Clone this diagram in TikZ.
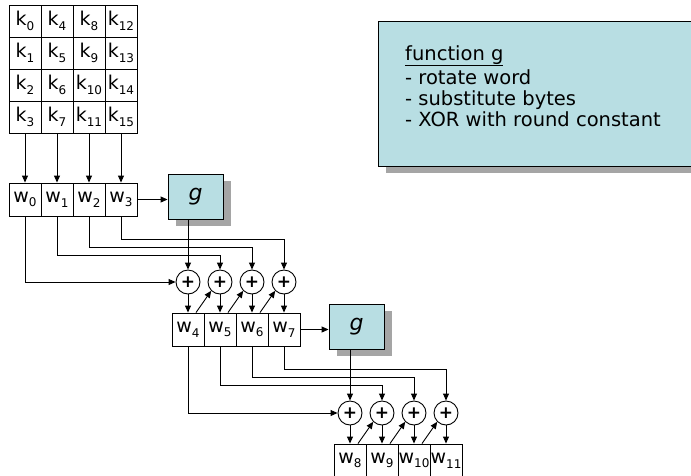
\documentclass[tikz,border=0pt]{standalone}
\usepackage{fontspec}
\setmainfont{DejaVu Sans}
\usetikzlibrary{arrows.meta,calc,shadows}
\definecolor{boxblue}{RGB}{184,222,227}
\definecolor{shadowgray}{RGB}{165,165,165}
\newcommand{\ksub}[1]{\raisebox{-0.45ex}{\fontsize{12}{12}\selectfont #1}}

\tikzset{
  cell/.style={draw, line width=0.9pt, minimum width=32pt, minimum height=32pt, inner sep=0pt,
    font=\fontsize{19}{20}\selectfont},
  wcell/.style={cell, minimum height=33pt},
  gshadow/.style={general shadow={fill=shadowgray, shadow xshift=8pt, shadow yshift=-7pt}},
  gbox/.style={draw, line width=0.9pt, fill=boxblue, gshadow, minimum width=55pt, minimum height=45pt,
    inner sep=0pt, font=\fontsize{22}{24}\selectfont\itshape},
  xor/.style={draw, line width=0.9pt, circle, minimum size=24pt, inner sep=0pt,
    font=\fontsize{17}{17}\selectfont\bfseries},
  arr/.style={line width=0.9pt, -{Triangle[length=7pt,width=6pt]}},
}

\begin{document}
\begin{tikzpicture}[x=1pt,y=-1pt]
        \useasboundingbox (0,0) rectangle (691,475);

        % key block
        \foreach \c in {0,...,3}
          \foreach \r in {0,...,3}{
            \pgfmathtruncatemacro\n{4*\c+\r}
            \node[cell] (k\n) at (25+32*\c,21+32*\r) {k\ksub{\n}};
          }

        % first words
        \foreach \i in {0,...,3}{
            \pgfmathtruncatemacro\r{4*\i+3}
            \node[wcell] (w\i) at (25+32*\i,199.5) {w\ksub{\i}};
            \draw[arr] (k\r.south) -- (w\i.north);
        }
        \node[gbox] (g1) at (195.5,196.5) {g};
        \draw[arr] (w3.east) -- (w3.east -| g1.west);

        % first round of XORs
        \foreach \i/\x in {4/188,5/220,6/252,7/284}
            \node[xor] (x\i) at (\x,282) {+};
        \draw[arr] (w0.south) |- (x4.west);
        \draw[arr] (g1.south -| x4) -- (x4.north);
        \draw[arr] (w1.south) -- ++(0,39) -| (x5.north);
        \draw[arr] (w2.south) -- ++(0,31) -| (x6.north);
        \draw[arr] (w3.south) -- ++(0,23) -| (x7.north);

        \foreach \i in {4,...,7}{
            \node[wcell] (w\i) at (60+32*\i,329.5) {w\ksub{\i}};
            \draw[arr] (x\i.south) -- (w\i.north);
        }
        \foreach \i/\j in {4/5,5/6,6/7}
            \draw[arr] ($(w\i.north)+(8,0)$) -- (x\j.south west);
        \node[gbox] (g2) at (356.5,326.5) {g};
        \draw[arr] (w7.east) -- (w7.east -| g2.west);

        % second round of XORs
        \foreach \i/\x in {8/350,9/382,10/414,11/446}
            \node[xor] (x\i) at (\x,413) {+};
        \draw[arr] (w4.south) |- (x8.west);
        \draw[arr] (g2.south -| x8) -- (x8.north);
        \draw[arr] (w5.south) -- ++(0,39) -| (x9.north);
        \draw[arr] (w6.south) -- ++(0,31) -| (x10.north);
        \draw[arr] (w7.south) -- ++(0,23) -| (x11.north);

        \foreach \i in {8,...,11}{
            \node[wcell] (w\i) at (94+32*\i,460.5) {w\ksub{\i}};
            \draw[arr] (x\i.south) -- (w\i.north);
        }
        \foreach \i/\j in {8/9,9/10,10/11}
            \draw[arr] ($(w\i.north)+(8,0)$) -- (x\j.south west);

        % what g does
        \node[draw, line width=0.9pt, fill=boxblue, gshadow, minimum width=342pt, minimum height=145pt]
            (note) at (549,93.5) {};
        \node[anchor=north west, align=left, inner sep=0pt, font=\fontsize{19.5}{21}\selectfont]
            (notetext) at (405,45) {\underline{function g}\\[3pt]- rotate word\\- substitute bytes\\- XOR with round constant};
    \end{tikzpicture}
\end{document}
